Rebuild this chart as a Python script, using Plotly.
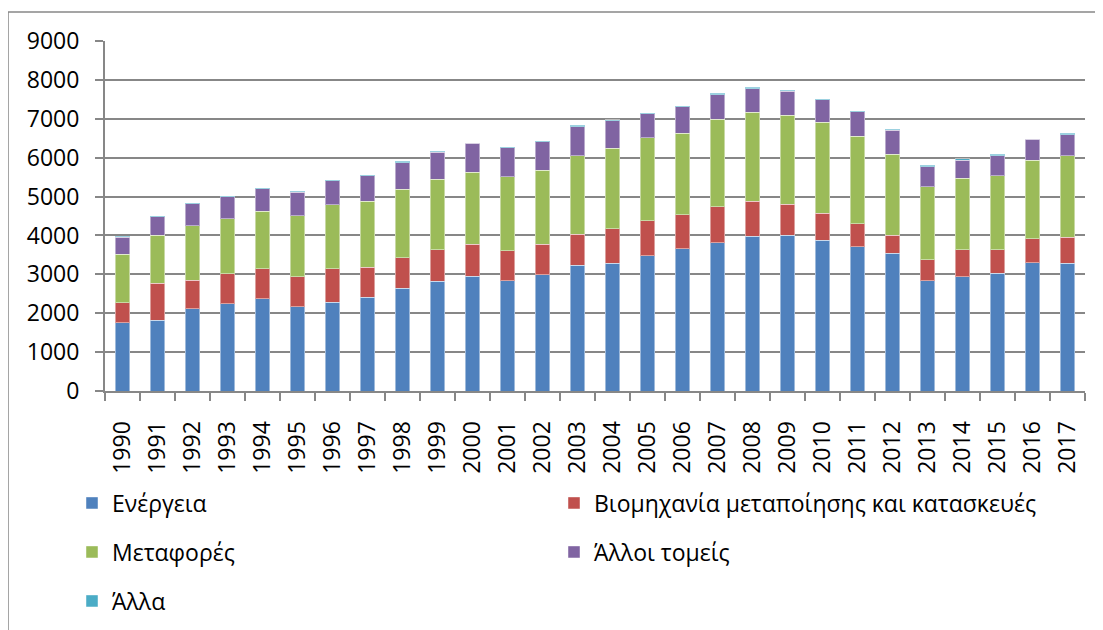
import plotly.graph_objects as go

years = [str(y) for y in range(1990, 2018)]

energy = [1757, 1817, 2117, 2246, 2374, 2168, 2280, 2408, 2648, 2828,
          2957, 2837, 2991, 3231, 3283, 3480, 3660, 3814, 3977, 4003,
          3874, 3711, 3548, 2837, 2940, 3026, 3300, 3291]
industry = [514, 951, 729, 771, 772, 772, 866, 772, 780, 806,
            823, 771, 789, 806, 891, 900, 874, 926, 900, 797,
            703, 592, 463, 540, 694, 608, 617, 660]
transport = [1243, 1235, 1405, 1414, 1482, 1568, 1637, 1705, 1766, 1817,
             1843, 1903, 1894, 2006, 2074, 2134, 2100, 2245, 2297, 2288,
             2331, 2254, 2083, 1877, 1834, 1903, 2023, 2100]
other_sectors = [437, 480, 566, 566, 575, 600, 625, 652, 677, 686,
                 745, 746, 737, 754, 695, 609, 677, 635, 600, 626,
                 575, 626, 609, 514, 463, 514, 531, 540]
other = [25, 25, 26, 26, 26, 26, 26, 17, 35, 34,
         17, 26, 26, 34, 34, 25, 17, 42, 43, 26,
         25, 25, 25, 35, 43, 35, 17, 34]

series = [
    ("Ενέργεια", energy, "#4F81BD", "legend"),
    ("Βιομηχανία μεταποίησης και κατασκευές", industry, "#C0504D", "legend"),
    ("Μεταφορές", transport, "#9BBB59", "legend2"),
    ("Άλλοι τομείς", other_sectors, "#8064A2", "legend2"),
    ("Άλλα", other, "#4BACC6", "legend3"),
]

OFF = 8  # page body margin
W, H = 1095, 622
ML, MT = 105 - OFF, 41 - OFF
PW, PH = 980, 350
MR, MB = W - ML - PW, H - MT - PH
GRID = "#878787"
FONT = "Open Sans"


# convert page pixel positions to paper coordinates
def px_x(px):
    return (px - OFF - ML) / PW


def px_y(py):
    return (MT + PH - (py - OFF)) / PH


fig = go.Figure()
for name, vals, color, leg in series:
    fig.add_trace(go.Bar(
        x=years, y=vals, name=name, legend=leg,
        marker=dict(color=color, line=dict(color="rgba(255,255,255,0.45)", width=1)),
    ))

leg_common = dict(orientation="h", xanchor="left", yanchor="middle",
                  traceorder="normal",
                  entrywidth=437, entrywidthmode="pixels",
                  font=dict(family=FONT, size=23, color="#000000"),
                  bgcolor="rgba(0,0,0,0)", x=px_x(72))

fig.update_layout(
    width=W, height=H,
    margin=dict(l=ML, r=MR, t=MT, b=MB, autoexpand=False),
    barmode="stack", bargap=0.59,
    plot_bgcolor="white", paper_bgcolor="white",
    font=dict(family=FONT, size=23, color="#000000"),
    legend=dict(leg_common, y=px_y(503)),
    legend2=dict(leg_common, y=px_y(552)),
    legend3=dict(leg_common, y=px_y(601)),
    xaxis=dict(type="category", tickangle=-90, ticks="outside", ticklen=8,
               tickson="boundaries", tickcolor=GRID, tickwidth=2,
               showline=True, linecolor=GRID, linewidth=2, showgrid=False,
               ticklabelstandoff=19, automargin=False),
    yaxis=dict(range=[0, 9000], dtick=1000, ticks="outside", ticklen=8,
               tickcolor=GRID, tickwidth=2, showline=True, linecolor=GRID,
               linewidth=2, gridcolor=GRID, gridwidth=2, zeroline=False,
               ticklabelstandoff=11, automargin=False),
    shapes=[
        dict(type="line", xref="paper", yref="paper",
             x0=px_x(8), x1=px_x(1110), y0=px_y(12), y1=px_y(12),
             line=dict(color=GRID, width=1.5)),
        dict(type="line", xref="paper", yref="paper",
             x0=px_x(8), x1=px_x(8), y0=px_y(12), y1=px_y(640),
             line=dict(color=GRID, width=1.5)),
    ],
)

fig.write_html("out.html")
